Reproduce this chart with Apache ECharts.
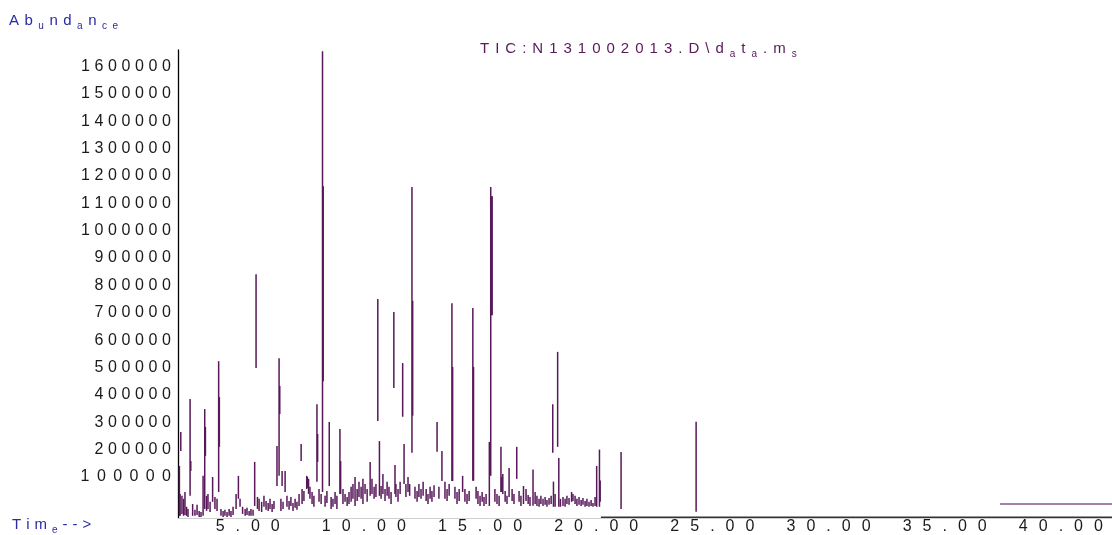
<!DOCTYPE html>
<html>
<head>
<meta charset="utf-8">
<script src="https://cdn.jsdelivr.net/npm/echarts@6/dist/echarts.min.js"></script>
<style>
  html, body { margin: 0; padding: 0; background: #fff; }
  #tic { width: 1112px; height: 535px; }
</style>
</head>
<body>
<div id="tic"></div>
<script>
// retention time (min), low abundance, high abundance for each drawn stroke
const peakSegments = [
  [2.06, -42000, 140000], [2.12, 195000, 264000], [2.52, 31000, 385000], [2.55, 122000, 158000],
  [3.08, -42000, 104000], [3.15, -17000, 348000], [3.18, 177000, 283000], [3.49, 9000, 100000],
  [3.75, 45000, 523000], [3.78, 210000, 392000], [4.50, -17000, 38000], [4.60, 20000, 104000],
  [5.30, -6000, 155000], [5.36, 498000, 841000], [6.26, 67000, 213000], [6.35, 104000, 534000],
  [6.38, 330000, 432000], [6.48, 67000, 122000], [6.61, 45000, 122000], [7.30, 158000, 220000],
  [7.54, 56000, 104000], [7.57, 60000, 100000], [7.98, 82000, 366000], [8.01, 155000, 257000],
  [8.22, 45000, 1655000], [8.25, 450000, 1162000], [8.51, 67000, 301000], [8.97, 38000, 275000],
  [9.00, 38000, 158000], [9.62, -6000, 100000], [10.27, 31000, 155000], [10.60, 304000, 750000],
  [10.67, 31000, 231000], [11.29, 425000, 703000], [11.34, 38000, 144000], [11.67, 320000, 516000],
  [11.73, 74000, 220000], [12.07, 188000, 1159000], [12.10, 324000, 744000], [13.15, 192000, 301000],
  [13.36, 85000, 195000], [13.79, 85000, 735000], [13.82, 85000, 502000], [14.25, 45000, 104000],
  [14.69, 86000, 717000], [14.72, 86000, 502000], [15.40, -6000, 228000], [15.46, 104000, 1159000],
  [15.49, 691000, 1126000], [15.52, 691000, 1126000], [15.90, 45000, 210000], [15.93, 45000, 100000],
  [16.25, 27000, 133000], [16.58, 93000, 210000], [17.28, -5000, 127000], [18.13, 188000, 366000],
  [18.16, -9000, 83000], [18.34, 210000, 557000], [18.39, -9000, 169000], [20.02, -9000, 140000],
  [20.14, -9000, 200000], [20.17, 9000, 87000], [21.07, -17000, 191000], [24.30, -27000, 302000]
];

const baselineSegments = [
  [2.09, -42000, 38000], [2.17, -35000, 31000], [2.24, -42000, 20000], [2.30, -39000, 45000], [2.37, -42000, -9000],
  [2.43, -46000, -17000], [2.63, -42000, 1000], [2.73, -42000, -20000], [2.82, -39000, -2000], [2.91, -46000, -24000],
  [2.99, -46000, -28000], [3.23, -24000, 31000], [3.29, -17000, 38000], [3.38, -28000, 9000], [3.59, -17000, 27000],
  [3.68, -24000, 20000], [3.85, -42000, -17000], [3.94, -46000, -24000], [4.02, -42000, -20000], [4.11, -46000, -28000],
  [4.20, -42000, -17000], [4.28, -46000, -24000], [4.37, -39000, -9000], [4.67, -9000, 20000], [4.78, -35000, -9000],
  [4.89, -42000, -17000], [4.97, -39000, -13000], [5.06, -42000, -24000], [5.14, -42000, -17000], [5.23, -42000, -20000],
  [5.42, -17000, 27000], [5.49, -24000, 20000], [5.60, -28000, 9000], [5.70, -9000, 31000], [5.79, -20000, 12000],
  [5.88, -24000, 5000], [5.96, -17000, 20000], [6.05, -28000, 1000], [6.13, -17000, 12000], [6.43, -24000, 20000],
  [6.52, -17000, 9000], [6.69, -9000, 31000], [6.78, -20000, 12000], [6.86, -6000, 27000], [6.95, -24000, 5000],
  [7.04, -13000, 20000], [7.12, -20000, 9000], [7.21, -6000, 38000], [7.34, 1000, 56000], [7.42, 12000, 49000],
  [7.62, 38000, 93000], [7.68, 20000, 64000], [7.77, 1000, 45000], [7.85, -9000, 31000], [8.07, 9000, 56000],
  [8.16, 1000, 38000], [8.33, -9000, 31000], [8.41, 5000, 49000], [8.59, -17000, 27000], [8.67, -9000, 20000],
  [8.76, 1000, 45000], [8.84, -17000, 31000], [9.10, 1000, 56000], [9.19, 9000, 38000], [9.28, -6000, 27000],
  [9.36, 1000, 45000], [9.45, 9000, 64000], [9.53, 20000, 74000], [9.71, 12000, 56000], [9.79, 27000, 82000],
  [9.88, 20000, 64000], [9.96, 1000, 93000], [10.05, 38000, 74000], [10.14, 9000, 56000], [10.35, 38000, 93000],
  [10.44, 20000, 64000], [10.52, 27000, 74000], [10.74, 20000, 67000], [10.82, 38000, 111000], [10.91, 12000, 56000],
  [11.00, 31000, 82000], [11.08, 20000, 64000], [11.17, 1000, 45000], [11.38, 27000, 74000], [11.47, 9000, 56000],
  [11.56, 38000, 82000], [11.81, 27000, 74000], [11.90, 45000, 100000], [11.97, 31000, 74000], [12.20, 20000, 64000],
  [12.29, 9000, 49000], [12.37, 27000, 74000], [12.46, 20000, 56000], [12.55, 31000, 82000], [12.68, 12000, 56000],
  [12.76, 1000, 38000], [12.85, 20000, 64000], [12.93, 9000, 49000], [13.02, 27000, 70000], [13.23, 20000, 64000],
  [13.49, 20000, 82000], [13.58, 12000, 56000], [13.67, 31000, 74000], [13.92, 20000, 64000], [14.01, 1000, 45000],
  [14.10, 12000, 56000], [14.35, 9000, 56000], [14.44, 1000, 38000], [14.53, 12000, 49000], [14.83, 20000, 64000],
  [14.91, 1000, 49000], [15.00, -6000, 31000], [15.09, 9000, 45000], [15.17, -6000, 27000], [15.26, 1000, 38000],
  [15.64, 9000, 56000], [15.73, 1000, 38000], [15.82, -6000, 31000], [15.98, 38000, 111000], [16.08, 9000, 49000],
  [16.16, 1000, 31000], [16.38, 12000, 56000], [16.46, 1000, 38000], [16.68, 9000, 49000], [16.76, -6000, 31000],
  [16.87, 1000, 67000], [16.98, 12000, 56000], [17.07, 1000, 34000], [17.15, -6000, 27000], [17.37, 1000, 45000],
  [17.45, -6000, 31000], [17.54, -9000, 20000], [17.62, 1000, 31000], [17.71, -6000, 20000], [17.80, -2000, 27000],
  [17.88, -9000, 16000], [17.97, -2000, 23000], [18.06, 1000, 31000], [18.23, -9000, 38000], [18.46, -9000, 20000],
  [18.57, -6000, 27000], [18.66, -9000, 20000], [18.74, 1000, 31000], [18.83, -2000, 23000], [18.94, 9000, 45000],
  [19.00, 12000, 38000], [19.09, 1000, 31000], [19.17, -6000, 20000], [19.26, -2000, 27000], [19.35, -6000, 16000],
  [19.43, -2000, 23000], [19.52, -9000, 12000], [19.60, -6000, 20000], [19.69, -9000, 9000], [19.78, -6000, 16000],
  [19.86, -9000, 5000], [19.95, -6000, 27000]
];

const lateBaseline = [[37.38, 1500], [42.2, 1500]];
const axisRule = [[20.2, -47000], [42.2, -47000]];

const timeTicks = [5, 10, 15, 20, 25, 30, 35, 40];
const abundanceStep = 100000;

const FONT = '"Liberation Sans", Arial, sans-serif';
const BLUE = '#2b2ba0';
const PLUM = '#58185a';
const INK = '#1a1a1a';

// each char its own rich token so it can be letter-spaced; mask 's' = subscript
function richText(str, mask) {
  return str.split('').map((c, i) => {
    const key = mask && mask[i] === 's' ? 's' : 'n';
    return '{' + key + '|' + c + '}';
  }).join('');
}

function spaced(str, style) {
  return str.split('').map((c, i) => '{' + (i === str.length - 1 ? 'e' : style) + '|' + c + '}').join('');
}

function titleRich(color, size, gap) {
  const base = { color: color, fontFamily: FONT, fontWeight: 'normal', padding: [0, gap, 0, 0] };
  return {
    n: { ...base, fontSize: size, lineHeight: 20 },
    s: { ...base, fontSize: 10, lineHeight: 12, verticalAlign: 'bottom' }
  };
}

function labelRich(gap, key) {
  const base = { fontSize: 16, fontFamily: FONT, color: INK };
  return { [key]: { ...base, padding: [0, gap, 0, 0] }, e: base };
}

function renderSegment(params, api) {
  const top = api.coord([api.value(0), api.value(2)]);
  const bottom = api.coord([api.value(0), api.value(1)]);
  return {
    type: 'line',
    shape: { x1: top[0], y1: top[1], x2: bottom[0], y2: bottom[1] },
    style: { stroke: PLUM, lineWidth: 1.5 }
  };
}

const chart = echarts.init(document.getElementById('tic'));

const yRich = labelRich(4.6, 'y');
yRich.w = { fontSize: 16, fontFamily: FONT, color: INK, padding: [0, 7.4, 0, 0] };

chart.setOption({
  animation: false,
  backgroundColor: '#fff',
  title: [
    {
      text: richText('Abundance', '..s..s.ss'),
      left: 9, top: 11, padding: 0,
      textStyle: { fontWeight: 'normal', rich: titleRich(BLUE, 15, 5.5) }
    },
    {
      text: richText('TIC:N131002013.D\\data.ms', '..................s.s..s'),
      left: 480, top: 39, padding: 0,
      textStyle: { fontWeight: 'normal', rich: titleRich(PLUM, 15, 6) }
    },
    {
      text: richText('Time-->', '...s...'),
      left: 12, top: 515, padding: 0,
      textStyle: { fontWeight: 'normal', rich: titleRich(BLUE, 15, 5) }
    }
  ],
  grid: { left: 178, right: 0, top: 50, bottom: 16 },
  xAxis: {
    type: 'value',
    min: 2,
    max: 42.2,
    axisLine: { show: true, onZero: false, lineStyle: { color: '#d0d0d0', width: 1 } },
    axisTick: { show: false },
    splitLine: { show: false },
    axisLabel: {
      customValues: timeTicks,
      margin: 1,
      color: INK,
      fontFamily: FONT,
      fontSize: 16,
      formatter: v => spaced(v.toFixed(2), 'x'),
      rich: labelRich(11, 'x')
    }
  },
  yAxis: {
    type: 'value',
    min: -50000,
    max: 1660000,
    interval: abundanceStep / 2,
    axisLine: { show: true, lineStyle: { color: '#000', width: 1.3 } },
    axisTick: { show: false },
    splitLine: { show: false },
    axisLabel: {
      margin: 7,
      color: INK,
      fontFamily: FONT,
      fontSize: 16,
      formatter: v => {
        if (v <= 0 || v % abundanceStep !== 0) return '';
        return spaced(String(v), v === abundanceStep ? 'w' : 'y');
      },
      rich: yRich
    }
  },
  series: [
    {
      name: 'baseline',
      type: 'custom',
      renderItem: renderSegment,
      encode: { x: 0, y: [1, 2] },
      data: baselineSegments,
      silent: true
    },
    {
      name: 'peaks',
      type: 'custom',
      renderItem: renderSegment,
      encode: { x: 0, y: [1, 2] },
      data: peakSegments,
      silent: true
    },
    {
      name: 'late baseline',
      type: 'line',
      data: lateBaseline,
      symbol: 'none',
      lineStyle: { color: '#8a5888', width: 1.5 },
      silent: true
    },
    {
      name: 'axis rule',
      type: 'line',
      data: axisRule,
      symbol: 'none',
      lineStyle: { color: '#333', width: 1.5 },
      silent: true
    }
  ]
});
</script>
</body>
</html>
